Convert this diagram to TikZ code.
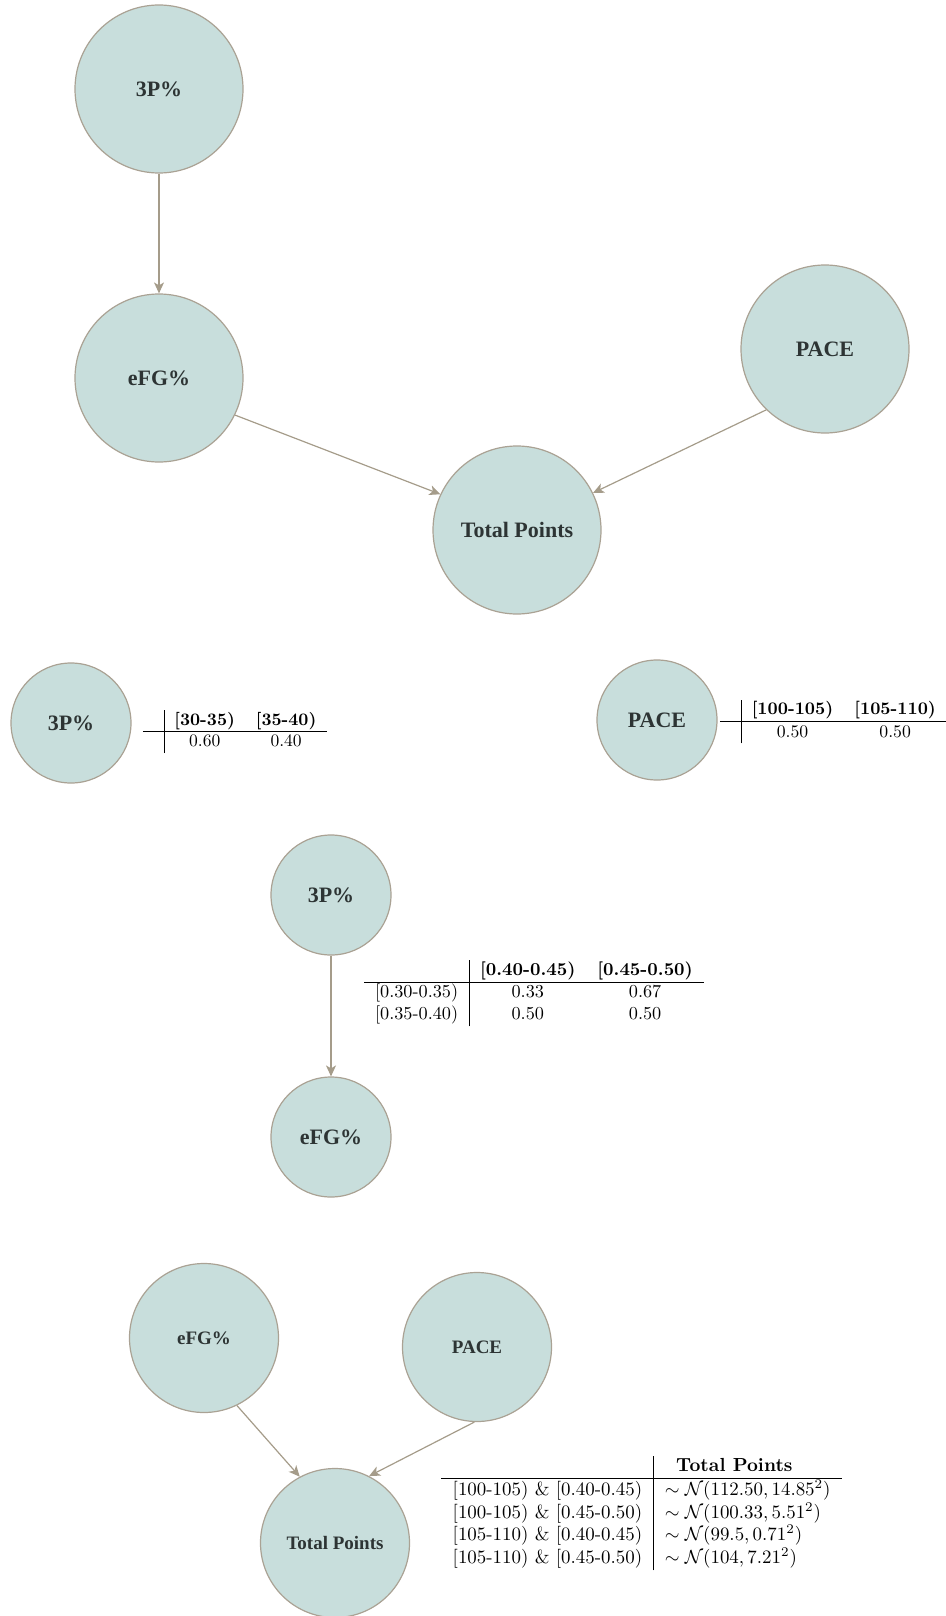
\documentclass[tikz,border=0pt]{standalone}
\usepackage{fontspec}
\newfontfamily\circfont{Liberation Serif}
\usetikzlibrary{positioning,arrows.meta}
\definecolor{varfill}{RGB}{200,222,220}
\definecolor{varborder}{RGB}{170,162,148}
\definecolor{vartext}{RGB}{45,52,52}
\definecolor{edgecol}{RGB}{165,156,138}
\setlength{\arrayrulewidth}{0.5pt}
\tikzset{
    var/.style={circle, draw=varborder, fill=varfill, line width=1.2pt,
        text=vartext, inner sep=0pt,
        font=\circfont\bfseries\fontsize{22}{26}\selectfont},
    big var/.style={var, minimum size=168pt},
    small var/.style={var, minimum size=120pt},
    low var/.style={var, minimum size=149pt,
        font=\circfont\bfseries\fontsize{19}{23}\selectfont},
    dep/.style={draw=edgecol, line width=1.2pt,
        -{Stealth[length=11pt,width=10pt,inset=3pt]}},
    cpt/.style={inner sep=0pt, font=\fontsize{10}{12}\selectfont, scale=1.77}
}

\begin{document}
\begin{tikzpicture}[x=1pt,y=-1pt]
\useasboundingbox (0,0) rectangle (945,1616);

% whole network
\node[big var] (p3) at (159,89) {3P\%};
\node[big var] (efg) at (159,378) {eFG\%};
\node[big var] (pace) at (825,349) {PACE};
\node[big var] (tp) at (517,530) {Total Points};
\draw[dep] (p3) -- (efg);
\draw[dep] (efg.334) -- (tp.155);
\draw[dep] (pace.226) -- (tp.26);

% priors
\node[small var] (p3s) at (71,723) {3P\%};
\node[cpt, scale=0.99, right=11pt of p3s, yshift=-5pt] (p3cpt) {%
    \begin{tabular}{c|cc}
        & \textbf{[30-35)} & \textbf{[35-40)}\\ \hline
        & 0.60 & 0.40
    \end{tabular}};
\node[small var] (paces) at (657,720) {PACE};
\node[cpt, right=2pt of paces, yshift=-1pt] (pacecpt) {%
    \begin{tabular}{c|cc}
        & \textbf{[100-105)} & \textbf{[105-110)}\\ \hline
        & 0.50 & 0.50
    \end{tabular}};

% eFG% given 3P%
\node[small var] (p3m) at (331,895) {3P\%};
\node[small var] (efgm) at (331,1137) {eFG\%};
\draw[dep] (p3m) -- (efgm);
\node[cpt, scale=1.03] (efgcpt) at (534,993) {%
    \begin{tabular}{r|cc}
        & \textbf{[0.40-0.45)} & \textbf{[0.45-0.50)}\\ \hline
        {[0.30-0.35)} & 0.33 & 0.67\\
        {[0.35-0.40)} & 0.50 & 0.50
    \end{tabular}};

% Total Points given eFG% and PACE
\node[low var] (efgl) at (204,1338) {eFG\%};
\node[low var] (pacel) at (477,1347) {PACE};
\node[low var] (tpl) at (335,1543) {Total Points};
\draw[dep] (efgl.296) -- (tpl.118);
\draw[dep] (pacel.268) -- (tpl.63);
\node[cpt, scale=1.07, anchor=west] (tpcpt) at (441,1513) {%
    \begin{tabular}{r|l}
        & \hspace{6pt}\textbf{Total Points}\\ \hline
        {[100-105) \& [0.40-0.45)} & $\sim\mathcal{N}(112.50, 14.85^2)$\\
        {[100-105) \& [0.45-0.50)} & $\sim\mathcal{N}(100.33, 5.51^2)$\\
        {[105-110) \& [0.40-0.45)} & $\sim\mathcal{N}(99.5, 0.71^2)$\\
        {[105-110) \& [0.45-0.50)} & $\sim\mathcal{N}(104, 7.21^2)$
    \end{tabular}};
\end{tikzpicture}
\end{document}
